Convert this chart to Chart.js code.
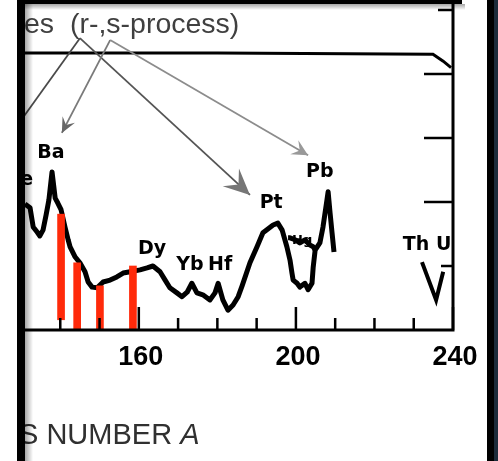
<!DOCTYPE html>
<html>
<head>
<meta charset="utf-8">
<script src="https://cdn.jsdelivr.net/npm/chart.js@4.4.1/dist/chart.umd.min.js"></script>
<style>
  html, body { margin: 0; padding: 0; background: #fff; }
  canvas { display: block; }
</style>
</head>
<body>
<canvas id="abundance" width="498" height="461"></canvas>
<script>
// abundance curve (mass number A, log abundance in decades)
const massNumber = [131.0, 132.3, 133.1, 134.1, 134.8, 135.6, 136.4, 137.1, 137.9, 138.7,
  139.4, 140.2, 141.2, 142.0, 142.5, 143.8, 145.0, 146.3, 147.1, 148.1, 149.4, 150.9,
  152.7, 154.4, 156.0, 157.8, 160.3, 162.1, 163.6, 165.4, 166.7, 167.9, 169.7, 171.0,
  172.3, 173.5, 174.8, 176.3, 178.1, 179.4, 180.2, 181.4, 182.7, 184.0, 185.3, 186.3,
  188.3, 190.1, 191.6, 194.2, 195.4, 196.5, 197.7, 198.5, 199.0, 199.3, 200.3, 201.0,
  202.3, 203.1, 204.1, 204.4, 204.9, 206.1, 206.9, 207.9, 208.2, 208.7, 209.2, 209.7];
const abundance = [1.97, 1.91, 1.61, 1.53, 1.47, 1.56, 1.80, 2.03, 2.47, 2.06,
  1.98, 1.88, 1.61, 1.41, 1.30, 1.14, 1.05, 0.91, 0.75, 0.67, 0.66, 0.75,
  0.78, 0.83, 0.89, 0.91, 0.94, 0.97, 1.00, 0.91, 0.78, 0.66, 0.58, 0.52,
  0.59, 0.73, 0.58, 0.55, 0.47, 0.58, 0.73, 0.47, 0.31, 0.39, 0.52, 0.69,
  1.05, 1.30, 1.52, 1.64, 1.67, 1.56, 1.30, 1.09, 0.89, 0.78, 0.73, 0.67,
  0.73, 0.63, 0.73, 0.98, 1.25, 1.36, 1.61, 2.03, 2.16, 1.83, 1.52, 1.22];

// upper branch around Hg
const hgA = [198.0, 198.5, 199.8, 201.0, 202.3, 203.5, 204.4, 204.9];
const hgVal = [1.44, 1.44, 1.41, 1.36, 1.41, 1.33, 1.30, 1.25];

// flat line near the top
const topA = [130, 180, 234.9, 237.5, 239.5];
const topVal = [4.33, 4.33, 4.31, 4.2, 4.1];

// Th, U marks
const thuA = [232.1, 235.7, 237.5];
const thuVal = [1.06, 0.47, 0.91];

// red bars
const barA = [140.2, 144.3, 150.1, 158.5];
const barLow = [0.16, 0, 0, -0.03];
const barHigh = [1.81, 1.05, 0.69, 1.0];

const majorTicks = [160, 200, 240];
const minorTicks = [140, 150, 170, 180, 190, 210, 220, 230];
const yTicks = [1, 2, 3, 4, 5];
const yTickLen = [12, 29, 29, 29, 15];

const elements = ["Ce", "Ba", "Dy", "Yb", "Hf", "Pt", "Hg", "Pb", "Th U"];
const elementA = [129.7, 137.6, 163.4, 173.0, 180.7, 193.7, 201.6, 206.1, 233.4];
const elementVal = [2.34, 2.77, 1.27, 1.02, 1.02, 1.98, 1.39, 2.47, 1.33];

// arrows from the r- and s- of the heading
const arrowFrom = [[145.0, 4.56], [145.0, 4.56], [152.7, 4.53], [152.7, 4.53]];
const arrowTo = [[129.7, 3.25], [188.3, 2.11], [140.4, 3.08], [203.1, 2.73]];

const pts = (xs, ys) => xs.map((x, i) => ({ x: x, y: ys[i] }));

function arrowHead(ctx, x1, y1, x2, y2, len, half, color) {
  const a = Math.atan2(y2 - y1, x2 - x1);
  const c = Math.cos(a), s = Math.sin(a);
  ctx.fillStyle = color;
  ctx.beginPath();
  ctx.moveTo(x2, y2);
  ctx.lineTo(x2 - len * c + half * s, y2 - len * s - half * c);
  ctx.lineTo(x2 - len * 0.6 * c, y2 - len * 0.6 * s);
  ctx.lineTo(x2 - len * c - half * s, y2 - len * s + half * c);
  ctx.closePath();
  ctx.fill();
}

const decorations = {
  id: "decorations",
  afterDraw(chart) {
    const ctx = chart.ctx;
    const xs = chart.scales.x, ys = chart.scales.y;
    const area = chart.chartArea;
    ctx.save();

    // axes
    ctx.strokeStyle = "#000";
    ctx.lineWidth = 3;
    ctx.beginPath();
    ctx.moveTo(area.left, area.bottom);
    ctx.lineTo(area.right, area.bottom);
    ctx.lineTo(area.right, 0);
    ctx.stroke();

    // ticks, pointing inwards
    ctx.lineWidth = 2.5;
    majorTicks.concat(minorTicks).forEach((v) => {
      const px = xs.getPixelForValue(v);
      const len = majorTicks.includes(v) ? 23 : 12;
      ctx.beginPath();
      ctx.moveTo(px, area.bottom);
      ctx.lineTo(px, area.bottom - len);
      ctx.stroke();
    });
    yTicks.forEach((v, i) => {
      const py = ys.getPixelForValue(v);
      ctx.beginPath();
      ctx.moveTo(area.right, py);
      ctx.lineTo(area.right - yTickLen[i], py);
      ctx.stroke();
    });

    ctx.fillStyle = "#000";
    ctx.font = "bold 27px 'Liberation Sans'";
    ctx.textAlign = "center";
    ctx.textBaseline = "middle";
    majorTicks.forEach((v) => {
      ctx.fillText(String(v), xs.getPixelForValue(v) + 2, 358);
    });

    // element labels
    elements.forEach((name, i) => {
      ctx.font = name === "Hg" ? "bold 13px 'DejaVu Sans'" : "bold 19px 'DejaVu Sans'";
      ctx.fillText(name, xs.getPixelForValue(elementA[i]), ys.getPixelForValue(elementVal[i]));
    });

    // arrows
    const colors = ["#4a4a4a", "#555555", "#7a7a7a", "#8c8c8c"];
    arrowFrom.forEach((f, i) => {
      const x1 = xs.getPixelForValue(f[0]), y1 = ys.getPixelForValue(f[1]);
      const x2 = xs.getPixelForValue(arrowTo[i][0]), y2 = ys.getPixelForValue(arrowTo[i][1]);
      ctx.strokeStyle = colors[i];
      ctx.lineWidth = 1.8;
      ctx.beginPath();
      ctx.moveTo(x1, y1);
      ctx.lineTo(x2, y2);
      ctx.stroke();
      if (i === 1) arrowHead(ctx, x1, y1, x2, y2, 26, 12, "#767676");
      if (i === 2) arrowHead(ctx, x1, y1, x2, y2, 15, 7, "#666666");
      if (i === 3) arrowHead(ctx, x1, y1, x2, y2, 16, 8, "#999999");
    });

    // heading and axis title (cut off at the left edge)
    ctx.textAlign = "left";
    ctx.textBaseline = "alphabetic";
    ctx.fillStyle = "#404040";
    ctx.font = "28.5px 'Liberation Sans'";
    ctx.fillText("es  (r-,s-process)", 24, 33);
    ctx.fillStyle = "#303030";
    ctx.font = "29px 'Liberation Sans'";
    ctx.fillText("S NUMBER ", 19, 444);
    const w = ctx.measureText("S NUMBER ").width;
    ctx.font = "italic 29px 'Liberation Sans'";
    ctx.fillText("A", 19 + w, 444);

    // slide frame
    ctx.fillStyle = "#fff";
    ctx.fillRect(0, 0, 17, 461);
    const g = ctx.createLinearGradient(25, 0, 33, 0);
    g.addColorStop(0, "rgba(0,0,0,0.35)");
    g.addColorStop(1, "rgba(0,0,0,0)");
    ctx.fillStyle = g;
    ctx.fillRect(25, 0, 8, 461);
    ctx.fillStyle = "#000";
    ctx.fillRect(17, 0, 8, 461);
    const gt = ctx.createLinearGradient(0, 4, 0, 10);
    gt.addColorStop(0, "rgba(0,0,0,0.35)");
    gt.addColorStop(1, "rgba(0,0,0,0)");
    ctx.fillStyle = gt;
    ctx.fillRect(25, 4, 440, 6);
    ctx.fillStyle = "#000";
    ctx.fillRect(17, 0, 445, 4);
    ctx.fillRect(487, 0, 7, 461);
    ctx.fillStyle = "#1c2b3a";
    ctx.fillRect(494, 0, 4, 461);
    ctx.restore();
  },
};

new Chart(document.getElementById("abundance"), {
  type: "line",
  data: {
    datasets: [
      {
        type: "bar",
        data: barA.map((a, i) => ({ x: a, y: [barLow[i], barHigh[i]] })),
        backgroundColor: "#ff2a0a",
        barThickness: 7,
        borderWidth: 0,
      },
      {
        data: pts(massNumber, abundance),
        borderColor: "#000",
        borderWidth: 5,
        pointRadius: 0,
        borderJoinStyle: "round",
      },
      {
        data: pts(hgA, hgVal),
        borderColor: "#000",
        borderWidth: 5,
        pointRadius: 0,
        borderJoinStyle: "round",
      },
      {
        data: pts(topA, topVal),
        borderColor: "#000",
        borderWidth: 3,
        pointRadius: 0,
      },
      {
        data: pts(thuA, thuVal),
        borderColor: "#000",
        borderWidth: 4,
        pointRadius: 0,
      },
    ],
  },
  options: {
    responsive: false,
    animation: false,
    layout: { padding: { left: 21, right: 45, top: 2, bottom: 131 } },
    scales: {
      x: { type: "linear", min: 130, max: 240, offset: false, display: false },
      y: { type: "linear", min: 0, max: 5.125, display: false },
    },
    plugins: {
      legend: { display: false },
      tooltip: { enabled: false },
    },
  },
  plugins: [decorations],
});
</script>
</body>
</html>
